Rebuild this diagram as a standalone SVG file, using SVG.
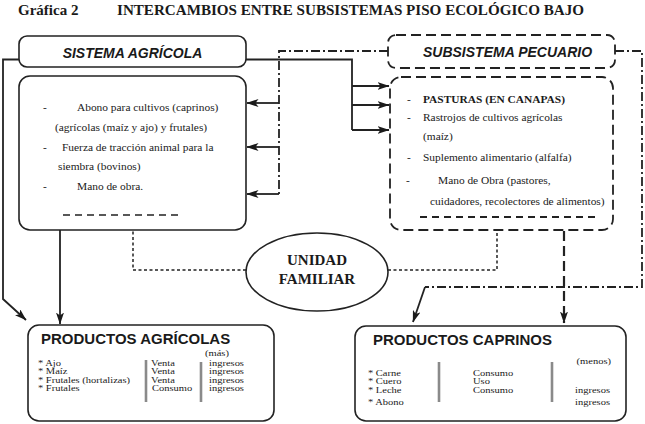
<svg xmlns="http://www.w3.org/2000/svg" width="645" height="424" viewBox="0 0 645 424">
<style>
.bx{fill:#fff;stroke:#222;stroke-width:1.6}
.dbx{fill:#fff;stroke:#222;stroke-width:1.8;stroke-dasharray:10 5}
.ln{fill:none;stroke:#222;stroke-width:1.8}
.dd{fill:none;stroke:#222;stroke-width:1.8;stroke-dasharray:9 3 2 3}
.dt{fill:none;stroke:#222;stroke-width:1.5;stroke-dasharray:3 2.5}
.ds{fill:none;stroke:#222;stroke-width:2.2;stroke-dasharray:10 5}
.hd{font-family:"Liberation Sans",Arial,sans-serif;font-weight:bold;font-style:italic;font-size:14px;fill:#1a1a1a}
.pt{font-family:"Liberation Sans",Arial,sans-serif;font-weight:bold;font-size:15px;fill:#1a1a1a}
.tx{font-family:"Liberation Serif","Times New Roman",serif;font-size:11.4px;fill:#1a1a1a}
.sm{font-family:"Liberation Serif","Times New Roman",serif;font-size:10.5px;fill:#1a1a1a}
.ti{font-family:"Liberation Serif","Times New Roman",serif;font-weight:bold;font-size:15px;fill:#1a1a1a}
.bar{stroke:#8a8a8a;stroke-width:2.6}
</style>
<defs>
<marker id="ah" viewBox="0 0 12 8" refX="11.5" refY="4" markerWidth="12" markerHeight="8" orient="auto" markerUnits="userSpaceOnUse"><path d="M0,0 L12,4 L0,8 L3,4 z" fill="#1a1a1a"/></marker>
<marker id="as" viewBox="0 0 10 8" refX="9.5" refY="4" markerWidth="9" markerHeight="7" orient="auto" markerUnits="userSpaceOnUse"><path d="M0,0 L10,4 L0,8 L2.5,4 z" fill="#1a1a1a"/></marker>
</defs>
<rect width="645" height="424" fill="#fff"/>
<g id="title">
<text class="ti" x="18" y="15">Gráfica 2</text>
<text class="ti" x="117" y="15" textLength="467" lengthAdjust="spacingAndGlyphs">INTERCAMBIOS ENTRE SUBSISTEMAS PISO ECOLÓGICO BAJO</text>
</g>
<g id="connectors">
<path class="ln" d="M19,59.5 H3 V299 L26,320" marker-end="url(#ah)"/>
<path class="ln" d="M246,59.5 H352 V130"/>
<line class="ln" x1="352" y1="86" x2="389" y2="86" marker-end="url(#ah)"/>
<line class="ln" x1="352" y1="105" x2="389" y2="105" marker-end="url(#ah)"/>
<line class="ln" x1="352" y1="130" x2="389" y2="130" marker-end="url(#ah)"/>
<path class="dd" d="M388,51 H279 V194"/>
<line class="ln" x1="279" y1="103" x2="247" y2="103" marker-end="url(#ah)"/>
<line class="ln" x1="279" y1="147" x2="247" y2="147" marker-end="url(#ah)"/>
<line class="ln" x1="279" y1="194" x2="247" y2="194" marker-end="url(#ah)"/>
<path class="dd" d="M615,51 H642 V287 H425"/>
<line class="ln" x1="425" y1="287" x2="413" y2="322" marker-end="url(#ah)"/>
<line class="ds" x1="564" y1="231" x2="564" y2="323" marker-end="url(#ah)"/>
<line class="ln" x1="60" y1="230" x2="60" y2="324" marker-end="url(#ah)"/>
<path class="dt" d="M246,270 H133 V221" marker-end="url(#as)"/>
<path class="dt" d="M388,270 H497 V216" marker-end="url(#as)"/>
</g>
<g id="sistema-agricola">
<rect class="bx" x="19" y="36" width="227" height="31" rx="8"/>
<text class="hd" x="132.5" y="58" text-anchor="middle">SISTEMA AGRÍCOLA</text>
</g>
<g id="sistema-agricola-items">
<rect class="bx" x="19" y="76" width="227" height="154" rx="11"/>
<text class="tx" x="43" y="111">-</text>
<text class="tx" x="77" y="111">Abono para cultivos (caprinos)</text>
<text class="tx" x="55" y="131">(agrícolas (maíz y ajo) y frutales)</text>
<text class="tx" x="43" y="151">-</text>
<text class="tx" x="62" y="151">Fuerza de tracción animal para la</text>
<text class="tx" x="58" y="170">siembra (bovinos)</text>
<text class="tx" x="43" y="190">-</text>
<text class="tx" x="77" y="190">Mano de obra.</text>
<line x1="63" y1="215" x2="181" y2="215" stroke="#222" stroke-width="1.5" stroke-dasharray="7 5"/>
</g>
<g id="subsistema-pecuario">
<rect class="dbx" x="388" y="35" width="227" height="33" rx="8"/>
<text class="hd" x="507.5" y="57" text-anchor="middle">SUBSISTEMA PECUARIO</text>
</g>
<g id="subsistema-pecuario-items">
<rect class="dbx" x="390" y="77" width="223" height="153" rx="11"/>
<text class="tx" x="407" y="103">-</text>
<text class="tx" x="423" y="103" font-weight="bold" font-size="11px">PASTURAS (EN CANAPAS)</text>
<text class="tx" x="407" y="121">-</text>
<text class="tx" x="423" y="121">Rastrojos de cultivos agrícolas</text>
<text class="tx" x="423" y="140">(maíz)</text>
<text class="tx" x="407" y="161">-</text>
<text class="tx" x="423" y="161">Suplemento alimentario (alfalfa)</text>
<text class="tx" x="406" y="184">-</text>
<text class="tx" x="438" y="184">Mano de Obra (pastores,</text>
<text class="tx" x="430" y="205">cuidadores, recolectores de alimentos)</text>
<line x1="420" y1="217" x2="598" y2="217" stroke="#222" stroke-width="1.8" stroke-dasharray="7 5"/>
</g>
<g id="unidad-familiar">
<ellipse cx="317" cy="272" rx="71" ry="39" fill="#fff" stroke="#222" stroke-width="1.6"/>
<text class="ti" x="317" y="265" text-anchor="middle" font-size="17px">UNIDAD</text>
<text class="ti" x="317" y="284" text-anchor="middle" font-size="17px">FAMILIAR</text>
</g>
<g id="productos-agricolas">
<rect class="bx" x="28" y="325" width="246" height="96" rx="11"/>
<text class="pt" x="41" y="344">PRODUCTOS AGRÍCOLAS</text>
<line class="bar" x1="146" y1="360" x2="146" y2="402"/>
<line class="bar" x1="201" y1="362" x2="201" y2="402"/>
<g transform="matrix(1 0 0 0.78 0 366)">
<text class="sm" x="205" y="-12.8">(más)</text>
<text class="sm" x="38" y="0">* Ajo</text>
<text class="sm" x="38" y="10.9">* Maíz</text>
<text class="sm" x="38" y="21.8">* Frutales (hortalizas)</text>
<text class="sm" x="38" y="32.7">* Frutales</text>
<text class="sm" x="151" y="0">Venta</text>
<text class="sm" x="151" y="10.9">Venta</text>
<text class="sm" x="151" y="21.8">Venta</text>
<text class="sm" x="152" y="32.7">Consumo</text>
<text class="sm" x="209" y="0">ingresos</text>
<text class="sm" x="209" y="10.9">ingresos</text>
<text class="sm" x="209" y="21.8">ingresos</text>
<text class="sm" x="209" y="32.7">ingresos</text>
</g>
</g>
<g id="productos-caprinos">
<rect class="bx" x="355" y="326" width="271" height="95" rx="11"/>
<text class="pt" x="373" y="345">PRODUCTOS CAPRINOS</text>
<line class="bar" x1="439" y1="362" x2="439" y2="402"/>
<line class="bar" x1="552" y1="362" x2="552" y2="402"/>
<g transform="matrix(1 0 0 0.78 0 376)">
<text class="sm" x="611" y="-15.4" text-anchor="end">(menos)</text>
<text class="sm" x="368" y="0">* Carne</text>
<text class="sm" x="368" y="10.9">* Cuero</text>
<text class="sm" x="368" y="21.8">* Leche</text>
<text class="sm" x="368" y="37.2">* Abono</text>
<text class="sm" x="473" y="0">Consumo</text>
<text class="sm" x="473" y="10.9">Uso</text>
<text class="sm" x="473" y="21.8">Consumo</text>
<text class="sm" x="610" y="21.8" text-anchor="end">ingresos</text>
<text class="sm" x="610" y="37.2" text-anchor="end">ingresos</text>
</g>
</g>
</svg>
